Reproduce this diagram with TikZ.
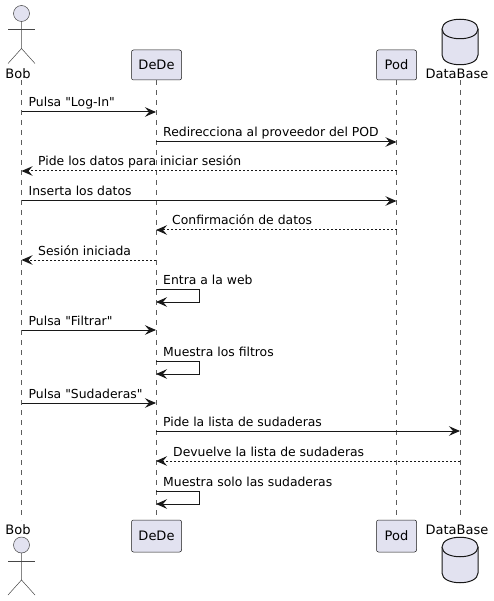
\documentclass[tikz,border=0pt]{standalone}
\usepackage{fontspec}
\newfontfamily\diagfont{DejaVu Sans}
\usetikzlibrary{arrows.meta}

\definecolor{partfill}{HTML}{E2E2F0}
\definecolor{partline}{HTML}{181818}

\tikzset{
    part/.style={draw=partline, line width=0.5pt, fill=partfill, rounded corners=2pt, minimum height=30pt, inner sep=0pt, font=\diagfont\fontsize{13}{16}\selectfont},
    partname/.style={inner sep=0pt, anchor=base, font=\diagfont\fontsize{13}{16}\selectfont},
    lifeline/.style={draw=partline!70, line width=0.5pt, dash pattern=on 5pt off 5pt},
    msg/.style={draw=partline, line width=1pt, -{Stealth[length=11pt, width=9.5pt, inset=4pt]}},
    reply/.style={msg, dash pattern=on 2pt off 2pt},
    msglabel/.style={inner sep=0pt, anchor=base west, font=\diagfont\fontsize{12.4}{14}\selectfont},
    figure/.style={draw=partline!80, line width=0.5pt, fill=partfill},
    stick/.style={draw=partline!80, line width=0.5pt},
    drum/.style={draw=partline, line width=1pt, fill=partfill}
}

\begin{document}
\begin{tikzpicture}[x=1pt, y=-1pt]
        \useasboundingbox (0,0) rectangle (494,601);

        % Lifelines
        \coordinate (bobTop) at (21.5,80);
        \coordinate (bobEnd) at (21.5,520);
        \node [part, minimum width=50pt] (dedeTop) at (156.5,65) {DeDe};
        \node [part, minimum width=50pt, minimum height=32pt] (dedeEnd) at (156.5,536) {DeDe};
        \node [part, minimum width=40pt] (podTop) at (396.5,65) {Pod};
        \node [part, minimum width=40pt, minimum height=32pt] (podEnd) at (396.5,536) {Pod};
        \coordinate (dbTop) at (460,80);
        \coordinate (dbEnd) at (460,520);
        \draw [lifeline] (bobTop) -- (bobEnd);
        \draw [lifeline] (dedeTop) -- (dedeEnd);
        \draw [lifeline] (podTop) -- (podEnd);
        \draw [lifeline] (dbTop) -- (dbEnd);

        % Actors
        \node [partname] (bobName) at (18,79) {Bob};
        \node [partname] (bobFoot) at (18,534) {Bob};
        \foreach \h in {13.5,545} {
            \draw [figure] (21.5,\h) circle (8);
            \draw [stick] (21.5,\h+8) -- ++(0,27) -- ++(-13.5,15) ++(13.5,-15) -- ++(13.5,15);
            \draw [stick] (8,\h+16) -- ++(27,0);
        }

        % Databases
        \node [partname] (dbName) at (457,79) {DataBase};
        \node [partname] (dbFoot) at (457,534) {DataBase};
        \foreach \h in {19,537} {
            \draw [drum] (442,\h+10) .. controls (442,\h-3) and (478,\h-3) .. (478,\h+10)
                -- (478,\h+36) .. controls (478,\h+49) and (442,\h+49) .. (442,\h+36) -- cycle;
            \draw [drum] (442,\h+10) .. controls (442,\h+23) and (478,\h+23) .. (478,\h+10);
        }

        % Rows of the messages
        \foreach \n/\y in {1/112,2/142,3/171,4/201,5/230,6/260,7/289,7b/302,8/330,9/361,9b/374,10/403,11/431,12/461,13/491,13b/504} {
            \coordinate (bob\n) at (21.5,\y);
            \coordinate (dede\n) at (156,\y);
            \coordinate (pod\n) at (396.5,\y);
            \coordinate (db\n) at (460,\y);
        }

        % Messages
        \draw [msg] (bob1) -- (dede1);
        \node [msglabel] (msgA) at (28.5,107) {Pulsa "Log-In"};
        \draw [msg] (dede2) -- (pod2);
        \node [msglabel] (msgB) at (163,137) {Redirecciona al proveedor del POD};
        \draw [reply] (pod3) -- (bob3);
        \node [msglabel] (msgC) at (38,166) {Pide los datos para iniciar sesión};
        \draw [msg] (bob4) -- (pod4);
        \node [msglabel] (msgD) at (28.5,196) {Inserta los datos};
        \draw [reply] (pod5) -- (dede5);
        \node [msglabel] (msgE) at (172,225) {Confirmación de datos};
        \draw [reply] (dede6) -- (bob6);
        \node [msglabel] (msgF) at (38,255) {Sesión iniciada};
        \draw [msg] (dede7) -| ++(43,13) -- (dede7b);
        \node [msglabel] (msgG) at (163,284) {Entra a la web};
        \draw [msg] (bob8) -- (dede8);
        \node [msglabel] (msgH) at (28.5,325) {Pulsa "Filtrar"};
        \draw [msg] (dede9) -| ++(43,13) -- (dede9b);
        \node [msglabel] (msgI) at (163,356) {Muestra los filtros};
        \draw [msg] (bob10) -- (dede10);
        \node [msglabel] (msgJ) at (28.5,398) {Pulsa "Sudaderas"};
        \draw [msg] (dede11) -- (db11);
        \node [msglabel] (msgK) at (163,426) {Pide la lista de sudaderas};
        \draw [reply] (db12) -- (dede12);
        \node [msglabel] (msgL) at (173,456) {Devuelve la lista de sudaderas};
        \draw [msg] (dede13) -| ++(43,13) -- (dede13b);
        \node [msglabel] (msgM) at (163,486) {Muestra solo las sudaderas};
\end{tikzpicture}
\end{document}
